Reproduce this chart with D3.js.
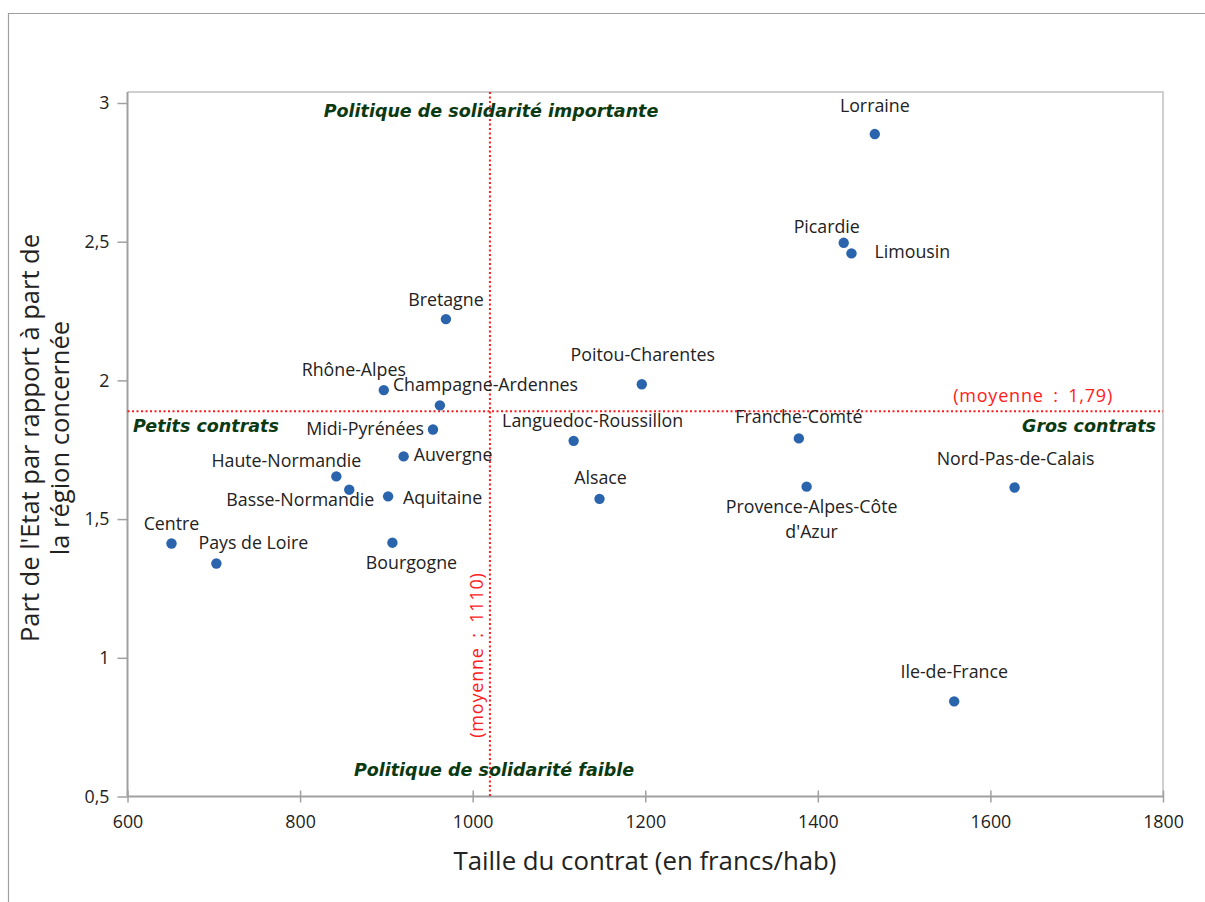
<!DOCTYPE html>
<html><head><meta charset="utf-8">
<script src="https://cdn.jsdelivr.net/npm/d3@7"></script>
<style>body{margin:0;background:#fff}svg{display:block}</style>
</head><body>
<script>
// ---- data ----
const regions = ["Lorraine","Picardie","Limousin","Bretagne","Poitou-Charentes","Rhône-Alpes","Champagne-Ardennes","Midi-Pyrénées","Languedoc-Roussillon","Franche-Comté","Auvergne","Haute-Normandie","Basse-Normandie","Aquitaine","Alsace","Provence-Alpes-Côte d'Azur","Nord-Pas-de-Calais","Centre","Pays de Loire","Bourgogne","Ile-de-France"];
const tailleContrat = [1466,1430,1439,969,1196,897,962,954,1117,1378,920,842,857,902,1147,1387,1628,651,703,907,1558];
const partEtat = [2.888,2.496,2.458,2.221,1.986,1.965,1.910,1.823,1.782,1.791,1.726,1.654,1.606,1.582,1.573,1.617,1.614,1.412,1.340,1.415,0.843];
const xTicks = [600,800,1000,1200,1400,1600,1800];
const yTicks = [0.5,1,1.5,2,2.5,3];
const meanX = 1020, meanXLabel = "(moyenne : 1110)";
const meanY = 1.889, meanYLabel = "(moyenne : 1,79)";

// label placement: [dx, dy(baseline), anchor]
const labelPlacement = [
  [0,-22,"middle"],[-17,-10,"middle"],[23,5,"start"],[0,-13,"middle"],[1,-23,"middle"],
  [-30,-14,"middle"],[-47,-14,"start"],[-9,6,"end"],[19,-14,"middle"],[0,-15,"middle"],
  [10,5,"start"],[-50,-9,"middle"],[25,16,"end"],[15,8,"start"],[1,-15,"middle"],
  [5,26,"middle"],[1,-22,"middle"],[0,-14,"middle"],[37,-14,"middle"],[19,26,"middle"],
  [0,-23,"middle"]
];

const W=1205,H=902;
const svg=d3.select("body").append("svg").attr("width",W).attr("height",H);

// outer frame
svg.append("path").attr("d","M8.5,902 L8.5,13.5 L1205,13.5").attr("fill","none").attr("stroke","#a0a0a0").attr("stroke-width",1.2);

const L=127.5,R=1163,T=92,B=796.5;
const x=d3.scaleLinear().domain([600,1800]).range([L,R]);
const y=d3.scaleLinear().domain([0.5,3]).range([B,103]);

// plot frame (top/right light)
svg.append("path").attr("d",`M${L},${T} L${R},${T} L${R},${B}`).attr("fill","none").attr("stroke","#cfcfcf").attr("stroke-width",2);

// axes
const fontTick="'Open Sans', sans-serif";
const gx=svg.append("g").attr("transform",`translate(0,${B})`)
  .call(d3.axisBottom(x).tickValues(xTicks).tickFormat(d3.format("d")).tickSizeInner(6).tickSizeOuter(0).tickPadding(13));
gx.selectAll(".tick line").attr("y1",-6).attr("stroke","#a0a0a0").attr("stroke-width",1.5);
gx.select(".domain").attr("stroke","#a0a0a0").attr("stroke-width",2).attr("d",`M${L},0H${R}`);
gx.selectAll("text").attr("font-family",fontTick).attr("font-size",17.8).attr("fill","#222");

const fmtY=d=>String(d).replace(".",",");
const gy=svg.append("g").attr("transform",`translate(${L},0)`)
  .call(d3.axisLeft(y).tickValues(yTicks).tickFormat(fmtY).tickSizeInner(10).tickSizeOuter(0).tickPadding(8));
gy.selectAll(".tick line").attr("stroke","#a0a0a0").attr("stroke-width",1.5);
gy.select(".domain").attr("stroke","#a0a0a0").attr("stroke-width",2).attr("d",`M0,${B}V${T}`);
gy.selectAll("text").attr("font-family",fontTick).attr("font-size",17.8).attr("fill","#222");

// axis titles
svg.append("text").attr("x",645).attr("y",870).attr("text-anchor","middle")
  .attr("font-family",fontTick).attr("font-size",25.8).attr("fill","#222").text("Taille du contrat (en francs/hab)");
const yt=svg.append("text").attr("transform","translate(39,438) rotate(-90)").attr("text-anchor","middle")
  .attr("font-family",fontTick).attr("font-size",25.5).attr("fill","#222");
yt.append("tspan").attr("x",0).attr("dy",0).text("Part de l'Etat par rapport à part de");
yt.append("tspan").attr("x",0).attr("dy",30).text("la région concernée");

// mean lines
svg.append("line").attr("x1",x(meanX)).attr("x2",x(meanX)).attr("y1",T).attr("y2",B)
  .attr("stroke","#ff1a1a").attr("stroke-width",2).attr("stroke-dasharray","2,2.5");
svg.append("line").attr("x1",L).attr("x2",R).attr("y1",y(meanY)).attr("y2",y(meanY))
  .attr("stroke","#ff1a1a").attr("stroke-width",2).attr("stroke-dasharray","2,2.5");
const fontV="'DejaVu Sans', Verdana, sans-serif";
svg.append("text").attr("x",1113).attr("y",y(meanY)-9).attr("text-anchor","end")
  .attr("font-family",fontTick).attr("font-size",18).attr("letter-spacing",0.8).attr("word-spacing",4)
  .attr("fill","#ff2020").text(meanYLabel);
svg.append("text").attr("transform",`translate(${x(meanX)-7},655) rotate(-90)`).attr("text-anchor","middle")
  .attr("font-family",fontTick).attr("font-size",18).attr("letter-spacing",0.8).attr("word-spacing",4)
  .attr("fill","#ff2020").text(meanXLabel);

// quadrant labels
const q=[["Politique de solidarité importante",491,117,"middle"],["Politique de solidarité faible",494,776,"middle"],
         ["Petits contrats",133,432,"start"],["Gros contrats",1156,432,"end"]];
svg.selectAll("text.q").data(q).join("text").attr("class","q")
  .attr("x",d=>d[1]).attr("y",d=>d[2]).attr("text-anchor",d=>d[3])
  .attr("font-family",fontV).attr("font-size",17.5).attr("font-weight","bold").attr("font-style","italic")
  .attr("fill","#0b3a12").text(d=>d[0]);

// points
const idx=d3.range(regions.length);
svg.selectAll("circle.pt").data(idx).join("circle").attr("class","pt")
  .attr("cx",i=>x(tailleContrat[i])).attr("cy",i=>y(partEtat[i])).attr("r",5.2).attr("fill","#2a64ad");

// labels
const lab=svg.selectAll("text.lab").data(idx).join("text").attr("class","lab")
  .attr("font-family",fontTick).attr("font-size",17.8).attr("fill","#222")
  .attr("text-anchor",i=>labelPlacement[i][2])
  .attr("transform",i=>`translate(${x(tailleContrat[i])+labelPlacement[i][0]},${y(partEtat[i])+labelPlacement[i][1]})`);
lab.each(function(i){
  const t=d3.select(this);
  const name=regions[i];
  if(name==="Provence-Alpes-Côte d'Azur"){
    t.append("tspan").attr("x",0).attr("y",0).text("Provence-Alpes-Côte");
    t.append("tspan").attr("x",0).attr("y",25).text("d'Azur");
  } else t.text(name);
});
</script>
</body></html>
